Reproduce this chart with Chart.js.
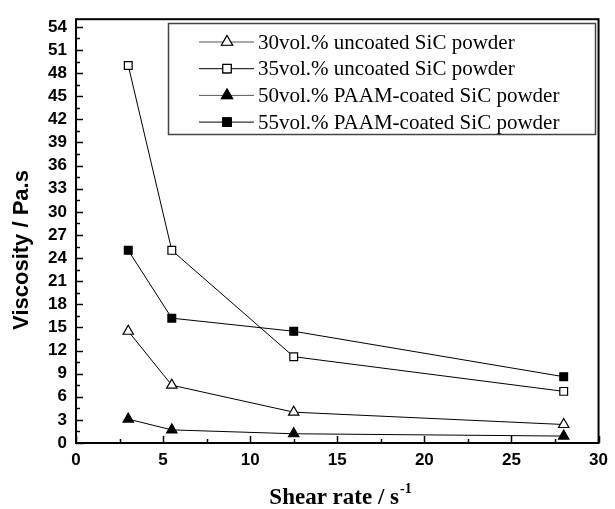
<!DOCTYPE html>
<html>
<head>
<meta charset="utf-8">
<script src="https://cdn.jsdelivr.net/npm/chart.js@4/dist/chart.umd.min.js"></script>
<style>
  html, body { margin: 0; padding: 0; background: #fff; }
  #wrap { width: 615px; height: 509px; position: relative; }
</style>
</head>
<body>
<div id="wrap"><canvas id="c"></canvas></div>
<script>
  // valores
  var shearRate = [3, 5.5, 12.5, 28];
  var visc30 = [14.5, 7.5, 4.0, 2.4];
  var visc35 = [49.0, 25.0, 11.2, 6.7];
  var visc50 = [3.1, 1.7, 1.2, 0.9];
  var visc55 = [25.0, 16.2, 14.5, 8.6];
  var nomes = [
    "30vol.% uncoated SiC powder",
    "35vol.% uncoated SiC powder",
    "50vol.% PAAM-coated SiC powder",
    "55vol.% PAAM-coated SiC powder"
  ];
  var xTicks = [0, 5, 10, 15, 20, 25, 30];

  function pts(ys) {
    return shearRate.map(function (x, i) { return { x: x, y: ys[i] }; });
  }

  function serie(label, ys, estilo, cheio, raio) {
    return {
      label: label,
      data: pts(ys),
      borderColor: "#000",
      borderWidth: 1,
      tension: 0,
      pointStyle: estilo,
      pointRadius: raio,
      pointHoverRadius: raio,
      pointBorderWidth: 1.2,
      pointBorderColor: "#000",
      pointBackgroundColor: cheio ? "#000" : "#fff"
    };
  }

  // ticks para dentro + moldura + legenda + títulos dos eixos
  var moldura = {
    id: "moldura",
    afterDraw: function (chart) {
      var ctx = chart.ctx, a = chart.chartArea;
      var sx = chart.scales.x, sy = chart.scales.y;
      ctx.save();
      ctx.strokeStyle = "#000";
      ctx.lineWidth = 1.5;
      var v, p;
      for (v = 0; v <= 30; v += 2.5) {
        p = Math.round(sx.getPixelForValue(v)) + 0.5;
        ctx.beginPath();
        ctx.moveTo(p, a.bottom);
        ctx.lineTo(p, a.bottom - (v % 5 === 0 ? 7 : 4));
        ctx.stroke();
      }
      for (v = 0; v <= 54; v += 1.5) {
        p = Math.round(sy.getPixelForValue(v)) + 0.5;
        ctx.beginPath();
        ctx.moveTo(a.left, p);
        ctx.lineTo(a.left + (v % 3 === 0 ? 7 : 4), p);
        ctx.stroke();
      }
      ctx.lineWidth = 2;
      ctx.strokeRect(a.left, a.top, a.right - a.left, a.bottom - a.top);

      // legenda
      ctx.lineWidth = 1.5;
      ctx.strokeStyle = "#444";
      ctx.strokeRect(168.5, 23.5, 427, 111);
      ctx.textBaseline = "middle";
      chart.data.datasets.forEach(function (ds, i) {
        var y = 42 + i * 26.7;
        ctx.strokeStyle = ds.pointStyle === "triangle" ? "#555" : "#000";
        ctx.lineWidth = 1;
        ctx.beginPath();
        ctx.moveTo(199, y);
        ctx.lineTo(254, y);
        ctx.stroke();
        Chart.helpers.drawPoint(ctx, {
          pointStyle: ds.pointStyle,
          radius: ds.pointRadius + 0.5,
          borderWidth: ds.pointBorderWidth,
          rotation: 0
        }, 227, y);
        ctx.fillStyle = ds.pointBackgroundColor;
        ctx.strokeStyle = "#000";
        ctx.lineWidth = 1.2;
        ctx.fill();
        ctx.stroke();
        ctx.fillStyle = "#000";
        ctx.font = "21px 'Liberation Serif'";
        ctx.fillText(ds.label, 258, y + 1);
      });

      // título do eixo y
      ctx.save();
      ctx.translate(22, 250);
      ctx.rotate(-Math.PI / 2);
      ctx.font = "bold 22px 'Liberation Sans'";
      ctx.textAlign = "center";
      ctx.textBaseline = "middle";
      ctx.fillText("Viscosity / Pa.s", 0, 0);
      ctx.restore();

      // título do eixo x com expoente
      ctx.font = "bold 23px 'Liberation Serif'";
      var t1 = "Shear rate / s";
      var w1 = ctx.measureText(t1).width;
      ctx.font = "bold 14px 'Liberation Serif'";
      var w2 = ctx.measureText("-1").width;
      var x0 = 340 - (w1 + w2) / 2;
      ctx.textBaseline = "alphabetic";
      ctx.textAlign = "left";
      ctx.font = "bold 23px 'Liberation Serif'";
      ctx.fillText(t1, x0, 504);
      ctx.font = "bold 14px 'Liberation Serif'";
      ctx.fillText("-1", x0 + w1 + 1, 493);
      ctx.restore();
    }
  };

  new Chart(document.getElementById("c"), {
    type: "line",
    data: {
      datasets: [
        serie(nomes[0], visc30, "triangle", false, 6),
        serie(nomes[1], visc35, "rect", false, 5.5),
        serie(nomes[2], visc50, "triangle", true, 6),
        serie(nomes[3], visc55, "rect", true, 5.5)
      ]
    },
    options: {
      responsive: true,
      maintainAspectRatio: false,
      animation: false,
      layout: { padding: { top: 15, right: 12, left: 0, bottom: 0 } },
      plugins: { legend: { display: false }, tooltip: { enabled: false } },
      scales: {
        x: {
          type: "linear",
          min: 0, max: 30,
          afterBuildTicks: function (s) { s.ticks = xTicks.map(function (v) { return { value: v }; }); },
          ticks: { color: "#000", padding: 7, font: { family: "'Liberation Sans'", size: 17, weight: "bold" } },
          grid: { display: false, drawTicks: false, tickLength: 0 },
          border: { display: false },
          afterFit: function (s) { s.height = 66; }
        },
        y: {
          min: 0, max: 55,
          ticks: { stepSize: 3, includeBounds: false, color: "#000", padding: 9,
            font: { family: "'Liberation Sans'", size: 17, weight: "bold" } },
          grid: { display: false, drawTicks: false, tickLength: 0 },
          border: { display: false },
          afterFit: function (s) { s.width = 76; }
        }
      }
    },
    plugins: [moldura]
  });
</script>
</body>
</html>
